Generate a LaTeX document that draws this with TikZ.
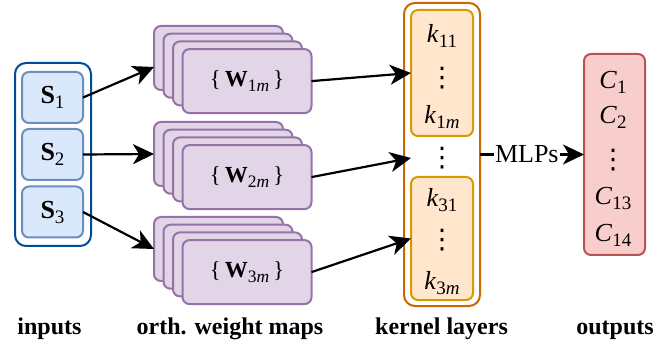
\documentclass[tikz,border=0pt]{standalone}
\usepackage{fontspec}
\setmainfont{Liberation Serif}
\newfontfamily\dotsfont{DejaVu Sans}
\usetikzlibrary{arrows.meta}
\definecolor{inBorder}{HTML}{004C99}
\definecolor{sFill}{HTML}{DAE8FC}
\definecolor{sDraw}{HTML}{6C8EBF}
\definecolor{wFill}{HTML}{E1D5E7}
\definecolor{wDraw}{HTML}{9673A6}
\definecolor{kOut}{HTML}{CC6600}
\definecolor{kFill}{HTML}{FFE6CC}
\definecolor{kDraw}{HTML}{D79B00}
\definecolor{oFill}{HTML}{F8CECC}
\definecolor{oDraw}{HTML}{B85450}
\newcommand\sbs[1]{\raisebox{-5pt}{\fontsize{19}{20}\selectfont #1}}
\newcommand\sbw[1]{\raisebox{-4.5pt}{\fontsize{17.5}{18}\selectfont #1}}
\newcommand\vdd{{\dotsfont\fontsize{27}{30}\selectfont ⋮}}
\begin{document}
\begin{tikzpicture}[x=1pt,y=-1pt,
  every node/.style={inner sep=0pt, outer sep=0pt, font=\fontsize{26}{30}\selectfont},
  outerbox/.style={draw, fill=white, rounded corners=11pt, line width=2pt},
  sbox/.style={draw=sDraw, fill=sFill, rounded corners=7pt, line width=2pt, minimum width=61pt, minimum height=51pt},
  card/.style={draw=wDraw, fill=wFill, rounded corners=7pt, line width=2pt, minimum width=129pt, minimum height=64pt, font=\fontsize{23}{26}\selectfont},
  kbox/.style={draw=kDraw, fill=kFill, rounded corners=7pt, line width=2pt, minimum width=62pt},
  obox/.style={draw=oDraw, fill=oFill, rounded corners=7pt, line width=2pt, minimum width=61pt, minimum height=201pt},
  lbl/.style={anchor=base, font=\fontsize{24}{28}\selectfont\bfseries},
  arr/.style={-{Stealth[length=21pt,width=20pt,inset=6pt]}, line width=2.2pt}
]
\useasboundingbox (0,0) rectangle (661,347);

% inputs
\node[outerbox, draw=inBorder, minimum width=76pt, minimum height=183pt] (inp) at (53,154.5) {};
\node[sbox] (s1) at (52.5,97.5) {\textbf{S}\sbs{1}};
\node[sbox] (s2) at (52.5,154.5) {\textbf{S}\sbs{2}};
\node[sbox] (s3) at (52.5,212) {\textbf{S}\sbs{3}};

% orth. weight maps
\foreach \g/\dy in {1/0,2/96,3/191}{
  \foreach \i in {0,1,2}{
    \node[card] (w\g\i) at (218.5+9.5*\i, 58+7.7*\i+\dy) {};
  }
  \node[card] (w\g3) at (247, 81.1+\dy) {\raisebox{-2pt}{\{\,\textbf{W}\sbw{\g\textit{m}}\,\}}};
}

% kernel layers
\node[outerbox, draw=kOut, minimum width=76pt, minimum height=303pt] (kout) at (442,154.5) {};
\node[kbox, minimum height=126pt] (kin1) at (442,73) {};
\node[kbox, minimum height=123pt] (kin2) at (442,238.5) {};
\node (k11) at (442,36) {\textit{k}\sbs{11}};
\node (kd1) at (442,78) {\vdd};
\node (k1m) at (442,117) {\textit{k}\sbs{1\textit{m}}};
\node (kmid) at (442,158) {\vdd};
\node (k31) at (442,200) {\textit{k}\sbs{31}};
\node (kd2) at (442,240) {\vdd};
\node (k3m) at (442,283) {\textit{k}\sbs{3\textit{m}}};

% outputs
\node[obox] (outp) at (614.5,154.5) {};
\node (c1) at (613,82) {\textit{C}\sbs{1}};
\node (c2) at (613,117) {\textit{C}\sbs{2}};
\node (cd) at (613,160) {\vdd};
\node (c13) at (613,198) {\textit{C}\sbs{13}};
\node (c14) at (613,235) {\textit{C}\sbs{14}};

% connectors
\draw[arr] (s1.east) -- ([yshift=-9pt]w10.west);
\draw[arr] (s2.east) -- (w20.west);
\draw[arr] (s3.east) -- (w30.west);
\draw[arr] (w13.east) -- (kin1.west);
\draw[arr] (w23.east) -- (kin1.west |- kmid.center);
\draw[arr] (w33.east) -- (kin2.west);
\draw[arr] (kout.east) -- node[pos=0.45, fill=white, inner sep=1pt] (mlp) {MLPs} (outp.west);

% labels
\node[lbl] (l1) at (49.5,334) {inputs};
\node[lbl] (l2) at (230,334) {orth. weight maps};
\node[lbl] (l3) at (441.5,334) {kernel layers};
\node[lbl] (l4) at (615,334) {outputs};
\end{tikzpicture}
\end{document}
